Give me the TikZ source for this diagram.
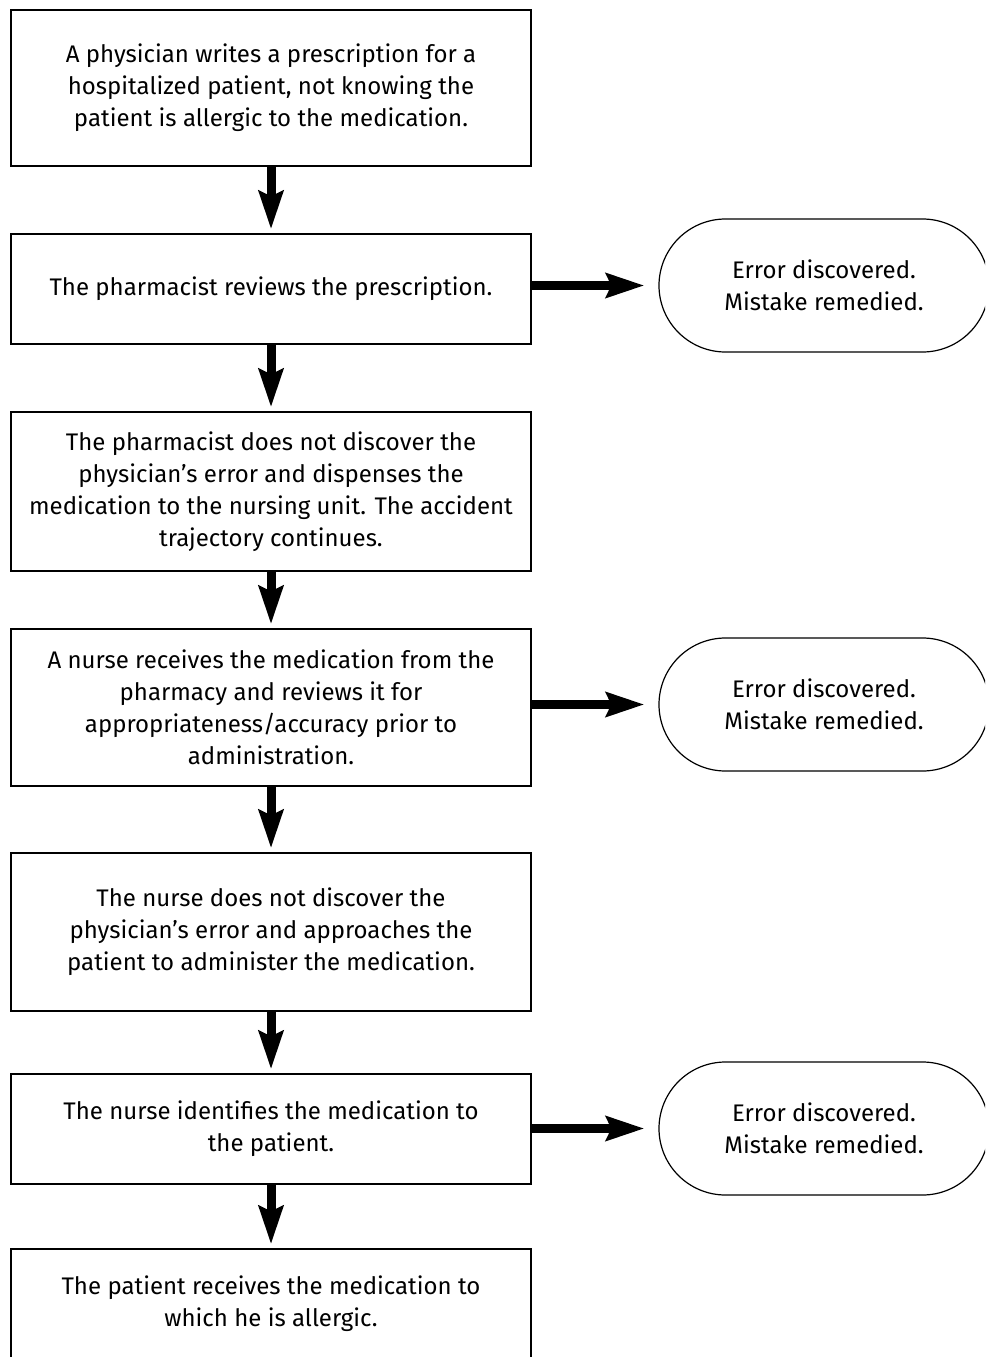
\documentclass[tikz,border=0pt]{standalone}
\usepackage{fontspec}
\setmainfont{Fira Sans}
\usetikzlibrary{arrows.meta,shapes.misc}
\begin{document}
\begin{tikzpicture}[x=1pt,y=-1pt,
  txt/.style={font=\fontsize{24}{32}\selectfont, align=center},
  stepbox/.style={txt, draw, line width=1.4pt, rectangle, minimum width=520pt, inner sep=0pt},
  outcome/.style={txt, draw, line width=1.2pt, rounded rectangle, minimum width=330pt, minimum height=133pt, inner sep=0pt},
  flow/.style={line width=9pt, -{Stealth[length=38pt, width=24pt, inset=5pt]}},
  side/.style={flow, shorten >=14pt}]
  \clip (0,0) rectangle (985,1357);
  \fill[white] (0,0) rectangle (985,1357);

  \node[stepbox, minimum height=156pt] (s1) at (271,88)
    {A physician writes a prescription for a\\hospitalized patient, not knowing the\\patient is allergic to the medication.};
  \node[stepbox, minimum height=110pt] (s2) at (271,289)
    {The pharmacist reviews the prescription.};
  \node[stepbox, minimum height=159pt] (s3) at (271,491.5)
    {The pharmacist does not discover the\\physician’s error and dispenses the\\medication to the nursing unit. The accident\\trajectory continues.};
  \node[stepbox, minimum height=157pt] (s4) at (271,707.5)
    {A nurse receives the medication from the\\pharmacy and reviews it for\\appropriateness/accuracy prior to\\administration.};
  \node[stepbox, minimum height=158pt] (s5) at (271,932)
    {The nurse does not discover the\\physician’s error and approaches the\\patient to administer the medication.};
  \node[stepbox, minimum height=110pt] (s6) at (271,1129)
    {The nurse identifies the medication to\\the patient.};
  \node[stepbox, minimum height=110pt] (s7) at (271,1304)
    {The patient receives the medication to\\which he is allergic.};

  \node[outcome] (o1) at (824,285.5) {Error discovered.\\Mistake remedied.};
  \node[outcome] (o2) at (824,704.5) {Error discovered.\\Mistake remedied.};
  \node[outcome] (o3) at (824,1128.5) {Error discovered.\\Mistake remedied.};

  \foreach \a/\b in {s1/s2, s2/s3, s3/s4, s4/s5, s5/s6, s6/s7}
    \draw[flow] (\a.south) -- ([yshift=4pt]\b.north);

  \draw[side] (s2.east |- o1.west) -- (o1.west);
  \draw[side] (s4.east |- o2.west) -- (o2.west);
  \draw[side] (s6.east |- o3.west) -- (o3.west);
\end{tikzpicture}
\end{document}
